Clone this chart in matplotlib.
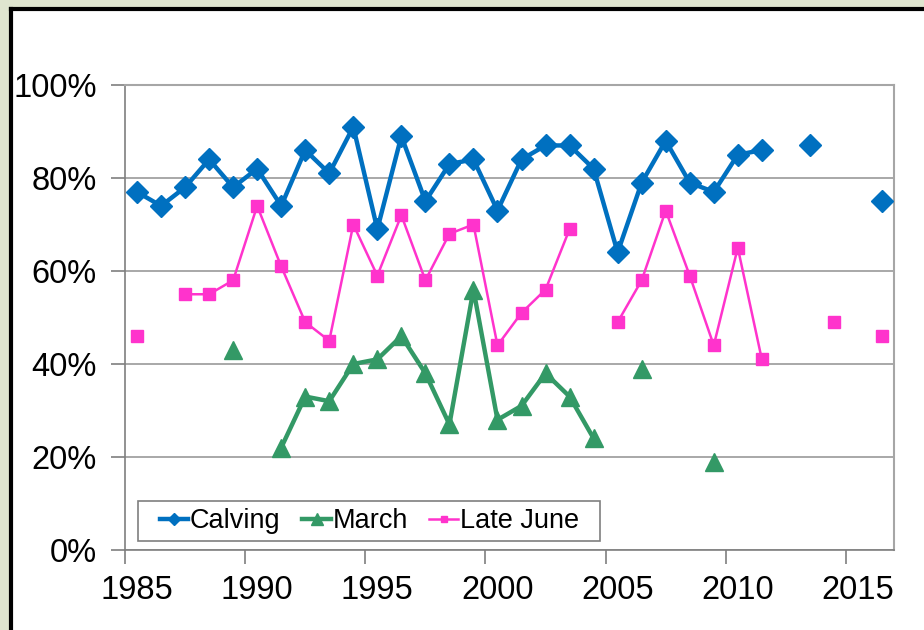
import numpy as np
import matplotlib
matplotlib.use("Agg")
import matplotlib.pyplot as plt
from matplotlib.ticker import FixedLocator, NullFormatter

plt.rcParams['font.family'] = ['Liberation Sans', 'DejaVu Sans']

nan = np.nan
years = np.arange(1985, 2017)

calving = [77, 74, 78, 84, 78, 82, 74, 86, 81, 91, 69, 89, 75, 83, 84, 73,
           84, 87, 87, 82, 64, 79, 88, 79, 77, 85, 86, nan, 87, nan, nan, 75]
march = [nan, nan, nan, nan, 43, nan, 22, 33, 32, 40, 41, 46, 38, 27, 56, 28,
         31, 38, 33, 24, nan, 39, nan, nan, 19, nan, nan, nan, nan, nan, nan, nan]
late_june = [46, nan, 55, 55, 58, 74, 61, 49, 45, 70, 59, 72, 58, 68, 70, 44,
             51, 56, 69, nan, 49, 58, 73, 59, 44, 65, 41, nan, nan, 49, nan, 46]

year_labels = ['1985', '1990', '1995', '2000', '2005', '2010', '2015']

W, H = 924, 630
fig = plt.figure(figsize=(W / 100, H / 100), dpi=100)
fig.patch.set_facecolor('white')

# outer frame: pale green strips with a black edge (top and left)
fig.add_artist(plt.Rectangle((0, 1 - 8 / H), 1, 8 / H, transform=fig.transFigure,
                             color='#dfe5cf', zorder=0))
fig.add_artist(plt.Rectangle((0, 0), 10 / W, 1, transform=fig.transFigure,
                             color='#dfe5cf', zorder=0))
fig.add_artist(plt.Line2D([11 / W, 1], [1 - 9 / H, 1 - 9 / H], transform=fig.transFigure,
                          color='black', lw=3))
fig.add_artist(plt.Line2D([11 / W, 11 / W], [0, 1 - 9 / H], transform=fig.transFigure,
                          color='black', lw=3))

ax = fig.add_axes([125 / W, 1 - 550 / H, (894 - 125) / W, (550 - 85) / H])

x = years + 0.5
ax.plot(x, calving, color='#0070c0', lw=3.2, marker='D', ms=11, label='Calving', zorder=3)
ax.plot(x, march, color='#339966', lw=3.2, marker='^', ms=13.5, label='March', zorder=4)
ax.plot(x, late_june, color='#ff33cc', lw=1.8, marker='s', ms=8, label='Late June', zorder=2)

ax.set_xlim(1985, 2017)
ax.set_ylim(0, 100)

ax.set_yticks(np.arange(0, 101, 20))
ax.set_yticklabels([f'{v}%' for v in range(0, 101, 20)])
ax.yaxis.grid(True, color='#999999', lw=1.2)
ax.set_axisbelow(True)

# ticks on the year boundaries, labels centred on the year
ax.xaxis.set_major_locator(FixedLocator([1985, 1990, 1995, 2000, 2005, 2010, 2015]))
ax.xaxis.set_major_formatter(NullFormatter())
ax.xaxis.set_minor_locator(FixedLocator([int(y) + 0.5 for y in year_labels]))
ax.set_xticklabels(year_labels, minor=True)
ax.tick_params(axis='x', which='major', length=10, width=1.2, color='#7f7f7f', direction='out')
ax.tick_params(axis='x', which='minor', length=0, labelsize=23.5, pad=18)
ax.tick_params(axis='y', length=10, width=1.2, color='#7f7f7f', labelsize=23.5, pad=10.5)

for side in ['top', 'right']:
    ax.spines[side].set_color('#a6a6a6')
    ax.spines[side].set_linewidth(1.5)
for side in ['left', 'bottom']:
    ax.spines[side].set_color('#7f7f7f')
    ax.spines[side].set_linewidth(1.2)

# legend box drawn separately so its padding can match
ax_w, ax_h = 894 - 125, 550 - 85
box = plt.Rectangle(((138 - 125) / ax_w, (550 - 541) / ax_h), (600 - 138) / ax_w, 40 / ax_h,
                    transform=ax.transAxes, facecolor='white', edgecolor='#7f7f7f',
                    lw=1.2, zorder=5)
ax.add_patch(box)
leg = ax.legend(loc='center left', bbox_to_anchor=((160 - 125) / ax_w, (550 - 521) / ax_h),
                ncol=3, fontsize=19.5, frameon=False, borderpad=0, borderaxespad=0,
                handlelength=1.05, handletextpad=0.06, columnspacing=0.8, markerscale=0.6)
leg.set_zorder(6)

fig.savefig('out.png', dpi=100)
